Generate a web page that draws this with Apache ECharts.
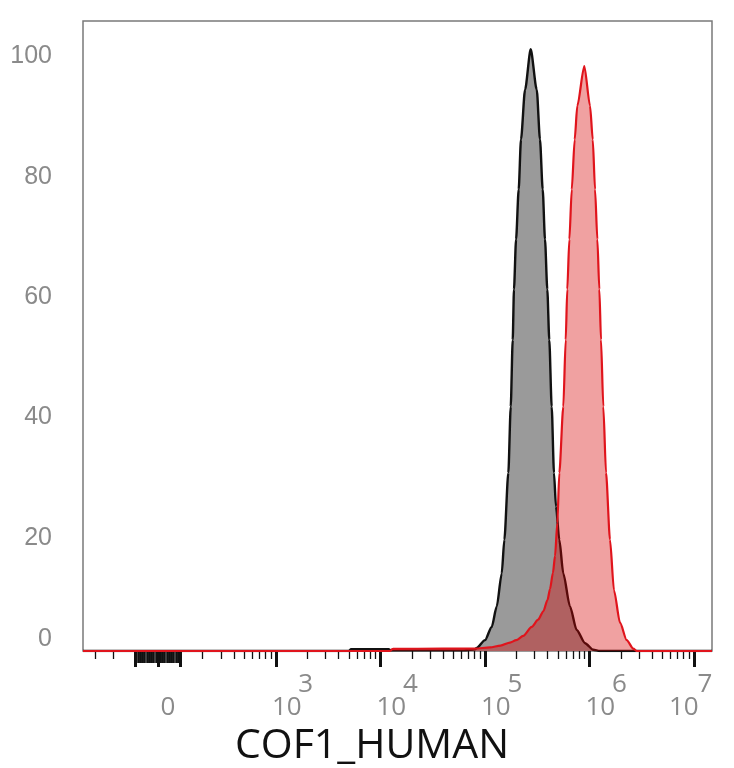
<!DOCTYPE html>
<html lang="en">
<head>
	<meta charset="UTF-8">
	<title>COF1_HUMAN histogram</title>
	<script src="https://cdn.jsdelivr.net/npm/echarts@6/dist/echarts.min.js"></script>
	<style>
		html, body { margin: 0; padding: 0; background: #fff; }
		#histChart { width: 734px; height: 768px; }
	</style>
</head>
<body>
	<div id="histChart"></div>

	<script>
	/* data - x is in display units of the biexponential scale (1 unit = 1 decade) */
	var controlX = [1.155, 3.70, 3.72, 4.08, 4.10, 4.80, 4.906, 4.922, 5.002, 5.066, 5.114, 5.162, 5.187, 5.225, 5.248, 5.267, 5.279, 5.299, 5.324, 5.346, 5.385, 5.439,
		5.497, 5.528, 5.554, 5.576, 5.598, 5.617, 5.640, 5.662, 5.681, 5.713, 5.751, 5.815, 5.879, 5.959, 6.038, 6.10, 7.174];
	var controlY = [0, 0, 0.3, 0.3, 0.1, 0.1, 0.3, 0.5, 1.8, 4.0, 7.4, 12.9, 18.5, 29.6, 40.6, 51.7, 60.1, 68.4, 76.7, 85.0, 93.3, 100,
		93.3, 85.0, 76.7, 68.4, 60.1, 51.7, 40.6, 29.6, 24.0, 18.5, 12.9, 7.4, 3.5, 1.3, 0.2, 0, 0];

	var stainedX = [1.155, 4.09, 4.12, 4.60, 4.906, 5.050, 5.150, 5.241, 5.300, 5.368, 5.449, 5.510, 5.560, 5.600, 5.624, 5.652, 5.672, 5.694, 5.713, 5.751, 5.774, 5.789, 5.809, 5.832, 5.860, 5.885, 5.952,
		6.007, 6.033, 6.055, 6.077, 6.096, 6.112, 6.134, 6.160, 6.198, 6.236, 6.294, 6.358, 6.420, 6.454, 7.174];
	var stainedY = [0, 0, 0.35, 0.4, 0.4, 0.6, 0.9, 1.4, 1.8, 2.5, 4.0, 5.2, 6.6, 8.5, 10.3, 13.0, 15.8, 21.3, 29.6, 40.6, 51.7, 60.1, 68.4, 76.7, 85.0, 90.6, 97.2,
		90.6, 85.0, 76.7, 68.4, 60.1, 51.7, 40.6, 29.6, 18.5, 10.1, 4.7, 1.8, 0.4, 0, 0];

	var decadeTicks = [3, 4, 5, 6, 7];
	var decadeExp = ['3', '4', '5', '6', '7'];
	var yLabels = [0, 20, 40, 60, 80, 100];

	// axis range
	var X_MIN = 1.155, X_MAX = 7.174;
	var Y_MAX = 104.7;

	// biexponential display transform: linear around 0, log10 above LIN_EDGE
	var ZERO_POS = 1.873;
	var LIN_EDGE = 203;
	function biex(v) {
		var a = Math.abs(v), t;
		if (a <= LIN_EDGE) t = a / (LIN_EDGE * Math.LN10);
		else t = Math.log10(a) - ZERO_POS;
		return v < 0 ? ZERO_POS - t : ZERO_POS + t;
	}

	// tick positions
	var majorTicks = [-100, 0, 100, 1e3, 1e4, 1e5, 1e6, 1e7].map(biex);
	var nearZero = [];
	for (var i = 1; i < 10; i++) { nearZero.push(biex(i * 10)); nearZero.push(biex(-i * 10)); }
	var minorTicks = [-400, -300, -200].map(biex);
	[100, 1e3, 1e4, 1e5, 1e6].forEach(function (dec) {
		for (var k = 2; k < 10; k++) minorTicks.push(biex(k * dec));
	});
	minorTicks = minorTicks.filter(function (t) { return t > X_MIN && t < X_MAX; });

	function zip(xs, ys) {
		return xs.map(function (x, i) { return [x, ys[i]]; });
	}

	function tickAxis(values, len, width) {
		return {
			type: 'value', position: 'bottom', min: X_MIN, max: X_MAX,
			axisLine: { show: false }, splitLine: { show: false },
			axisLabel: { show: false },
			axisTick: { show: true, customValues: values, length: len, lineStyle: { width: width, color: '#111' } }
		};
	}

	var labelFont = { fontFamily: 'Open Sans', fontSize: 26, color: '#8a8a8a' };
	var yFont = { fontFamily: 'Liberation Sans', fontSize: 25, color: '#8a8a8a' };

	var histChart = echarts.init(document.getElementById('histChart'), null, { renderer: 'canvas' });
	var histOption = {
		animation: false,
		backgroundColor: '#fff',
		grid: {
			left: 83, right: 22, top: 21, bottom: 117,
			show: true, borderColor: '#7a7a7a', borderWidth: 1.5, backgroundColor: 'transparent'
		},
		xAxis: [
			{
				// main axis: decade labels + major ticks
				type: 'value', position: 'bottom', min: X_MIN, max: X_MAX,
				axisLine: { show: false }, splitLine: { show: false },
				axisTick: { show: true, customValues: majorTicks, length: 16, lineStyle: { width: 3, color: '#111' } },
				axisLabel: {
					show: true, margin: 44,
					customValues: [ZERO_POS].concat(decadeTicks),
					formatter: function (val) {
						if (Math.abs(val - ZERO_POS) < 1e-6) return '{z|0}';
						if (val === 7) return '{e|10}';
						return '{b|10}';
					},
					rich: {
						z: Object.assign({ padding: [0, 0, 0, 20] }, labelFont),
						b: Object.assign({ padding: [0, 0, 0, 22] }, labelFont),
						e: Object.assign({ padding: [0, 20, 0, 0] }, labelFont)
					}
				}
			},
			{
				// exponents
				type: 'value', position: 'bottom', min: X_MIN, max: X_MAX,
				axisLine: { show: false }, splitLine: { show: false }, axisTick: { show: false },
				axisLabel: {
					show: true, margin: 21,
					customValues: decadeTicks,
					formatter: function (val) {
						var s = decadeExp[decadeTicks.indexOf(val)];
						return val === 7 ? '{e|' + s + '}' : '{s|' + s + '}';
					},
					rich: {
						s: Object.assign({ padding: [0, 0, 0, 60] }, labelFont),
						e: Object.assign({ padding: [0, 0, 0, 22] }, labelFont)
					}
				}
			},
			tickAxis(nearZero, 12, 2.6),
			tickAxis(minorTicks, 8, 1.3)
		],
		yAxis: {
			type: 'value', min: 0, max: Y_MAX,
			axisLine: { show: false }, axisTick: { show: false }, splitLine: { show: false },
			axisLabel: {
				margin: 31,
				customValues: yLabels,
				formatter: function (val) { return val === 0 ? '{z|0}' : '{n|' + val + '}'; },
				rich: {
					z: Object.assign({ padding: [0, 0, 24, 0] }, yFont),
					n: Object.assign({ padding: [14, 0, 0, 0] }, yFont)
				}
			}
		},
		graphic: [{
			type: 'text', x: 372, y: 746,
			style: {
				text: 'COF1_HUMAN', align: 'center', verticalAlign: 'middle',
				fontFamily: 'Open Sans', fontSize: 41, fill: '#111'
			}
		}],
		series: [
			{
				name: 'control', type: 'line', xAxisIndex: 0,
				data: zip(controlX, controlY),
				symbol: 'none', smooth: 0.25, smoothMonotone: 'x',
				lineStyle: { color: '#111', width: 2.4 },
				areaStyle: { color: '#9a9a9a', opacity: 1 },
				z: 2
			},
			{
				name: 'COF1_HUMAN', type: 'line', xAxisIndex: 0,
				data: zip(stainedX, stainedY),
				symbol: 'none', smooth: 0.25, smoothMonotone: 'x',
				lineStyle: { color: '#e0141c', width: 2.2 },
				areaStyle: { color: 'rgb(215,0,0)', opacity: 0.37 },
				z: 3
			}
		]
	};
	histChart.setOption(histOption);
	</script>
</body>
</html>
